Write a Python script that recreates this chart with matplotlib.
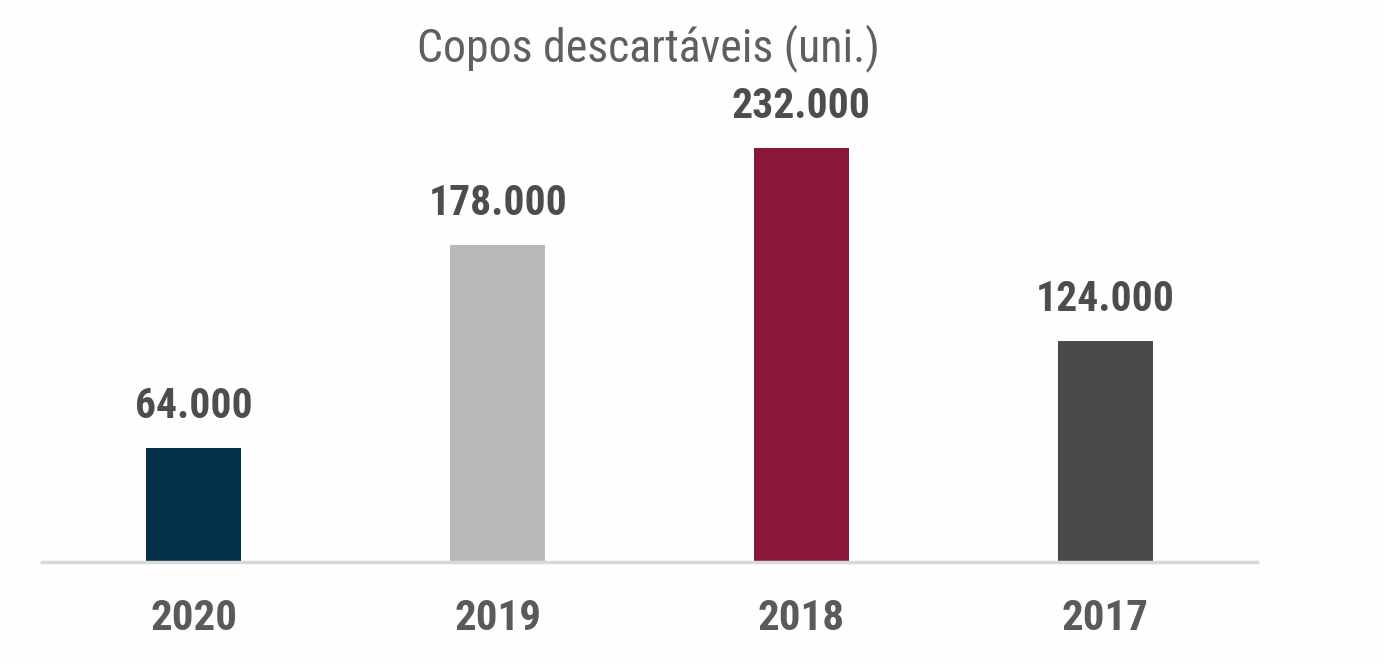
import matplotlib
matplotlib.use("Agg")
import matplotlib.pyplot as plt
from matplotlib import font_manager as fm

years = ["2020", "2019", "2018", "2017"]
values = [64000, 178000, 232000, 124000]
labels = ["64.000", "178.000", "232.000", "124.000"]
colors = ["#04304a", "#b9b9b9", "#88173a", "#4a4a4a"]
title = "Copos descartáveis (uni.)"

names = {f.name for f in fm.fontManager.ttflist}
fam = []
for n in ["Roboto Condensed", "Liberation Sans Narrow", "DejaVu Sans Condensed", "Liberation Sans"]:
    if n in names:
        fam.append(n)
fam.append("DejaVu Sans")
plt.rcParams['font.family'] = fam

W, H = 1384, 664
fig = plt.figure(figsize=(W/100, H/100), dpi=100, facecolor="#fefefe")
ax = fig.add_axes([42/W, (H-562)/H, 1215/W, 535/H])
ax.set_facecolor("none")
x = list(range(len(years)))
ax.bar(x, values, width=95/303.7, color=colors, zorder=2)
ax.set_xlim(-0.5, 3.5)
ax.set_ylim(0, 300000)
for s in ["top", "right", "left"]:
    ax.spines[s].set_visible(False)
ax.spines["bottom"].set_color("#d9d9d9")
ax.spines["bottom"].set_linewidth(2.5)
ax.set_yticks([])
ax.set_xticks(x)
ax.set_xticklabels(years, fontsize=31, color="#5a5a5a", fontweight="semibold")
ax.tick_params(axis="x", length=0, pad=26)
for xi, v, lab in zip(x, values, labels):
    ax.annotate(lab, (xi, v), xytext=(0, 15), textcoords="offset points",
                ha="center", va="bottom", fontsize=30, color="#4d4d4d",
                fontweight="semibold")
fig.text(648/W, 1 - 48/H, title, ha="center", va="center", fontsize=33,
         color="#5f5f5f", fontweight="normal")
fig.savefig("out.png", dpi=100, facecolor=fig.get_facecolor())
